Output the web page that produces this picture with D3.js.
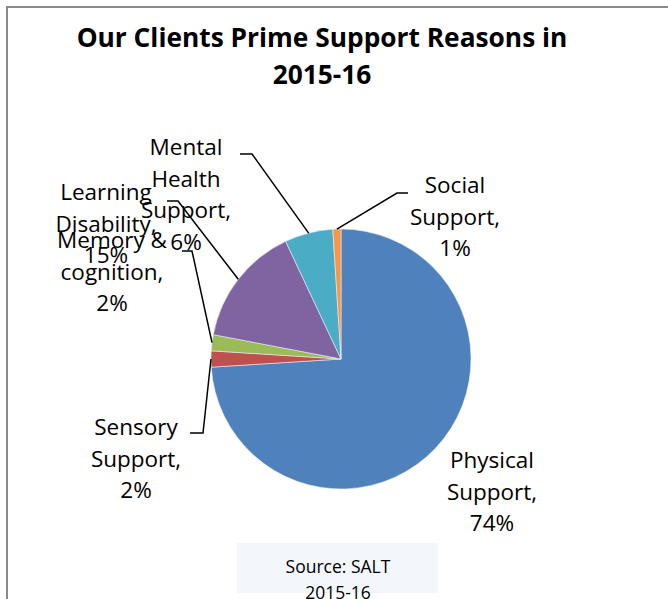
<!DOCTYPE html>
<html>
<head>
<meta charset="utf-8">
<script src="https://cdn.jsdelivr.net/npm/d3@7"></script>
<style>
  html, body { margin: 0; padding: 0; background: #fff; }
  svg { display: block; }
</style>
</head>
<body>
<svg id="chart" width="668" height="599"></svg>
<script>
// Support reasons, in clockwise order from 12 o'clock
const categories = ["Physical Support", "Sensory Support", "Memory & cognition", "Learning Disability", "Mental Health Support", "Social Support"];
const shares = [74, 2, 2, 15, 6, 1];
const colors = ["#4F81BD", "#C0504D", "#9BBB59", "#8064A2", "#4BACC6", "#F79646"];
// Wrapped label lines for each slice
const labelLines = [
  ["Physical", "Support,", "74%"],
  ["Sensory", "Support,", "2%"],
  ["Memory &", "cognition,", "2%"],
  ["Learning", "Disability,", "15%"],
  ["Mental", "Health", "Support,", "6%"],
  ["Social", "Support,", "1%"]
];
const titleLines = ["Our Clients Prime Support Reasons in", "2015-16"];
const sourceLines = ["Source: SALT", "2015-16"];

// Layout: label anchor (centre x, first baseline) and leader elbow/end points
const labelLayout = [
  { x: 492, y: 468, leader: null },
  { x: 136, y: 435, leader: [[203, 433], [190, 433]] },
  { x: 112, y: 248, leader: [[192, 251], [182, 251]] },
  { x: 106, y: 200, leader: [[178, 201], [167, 201]] },
  { x: 186, y: 155, leader: [[252, 154], [240, 154]] },
  { x: 455, y: 193, leader: [[397, 193], [408, 193]] }
];

const W = 668, H = 599;
const cx = 341, cy = 359, R = 130;
const font = "'Open Sans', 'Noto Sans', sans-serif";
const lineGap = 31.7;

const svg = d3.select("#chart");

// Chart area frame (top and left edges visible)
svg.append("line").attr("x1", 7).attr("y1", 7).attr("x2", W).attr("y2", 7)
  .attr("stroke", "#8a8a8a").attr("stroke-width", 2);
svg.append("line").attr("x1", 7).attr("y1", 6).attr("x2", 7).attr("y2", H)
  .attr("stroke", "#8a8a8a").attr("stroke-width", 2);

// Title
svg.append("text")
  .attr("text-anchor", "middle")
  .attr("font-family", font).attr("font-weight", "bold").attr("font-size", 26.3)
  .attr("fill", "#000")
  .selectAll("tspan").data(titleLines).join("tspan")
  .attr("x", 322).attr("y", (d, i) => 47 + i * 37).text(d => d);

const data = categories.map((c, i) => ({ name: c, value: shares[i], color: colors[i], lines: labelLines[i], layout: labelLayout[i] }));

const pie = d3.pie().sort(null).value(d => d.value).startAngle(0).endAngle(2 * Math.PI);
const arc = d3.arc().innerRadius(0).outerRadius(R);
const arcs = pie(data);

const g = svg.append("g").attr("transform", `translate(${cx},${cy})`);
g.selectAll("path.slice").data(arcs).join("path")
  .attr("class", "slice")
  .attr("d", arc)
  .attr("fill", d => d.data.color)
  .attr("stroke", "#e8eef6")
  .attr("stroke-width", 0.6);

// Leader lines from the slice's outer edge to the label
const edgePoint = d => {
  const a = (d.startAngle + d.endAngle) / 2;
  return [cx + R * Math.sin(a), cy - R * Math.cos(a)];
};
const line = d3.line();
svg.append("g").selectAll("path").data(arcs.filter(d => d.data.layout.leader)).join("path")
  .attr("d", d => line([edgePoint(d), ...d.data.layout.leader]))
  .attr("fill", "none").attr("stroke", "#000").attr("stroke-width", 1.5);

// Data labels
svg.append("g").selectAll("text").data(arcs).join("text")
  .attr("text-anchor", "middle")
  .attr("font-family", font).attr("font-size", 22.5).attr("fill", "#000")
  .each(function (d) {
    d3.select(this).selectAll("tspan").data(d.data.lines).join("tspan")
      .attr("x", d.data.layout.x)
      .attr("y", (t, i) => d.data.layout.y + i * lineGap)
      .text(t => t);
  });

// Source note box
svg.append("rect").attr("x", 237).attr("y", 543).attr("width", 201).attr("height", 50)
  .attr("fill", "#F3F6FB");
svg.append("text")
  .attr("text-anchor", "middle")
  .attr("font-family", font).attr("font-size", 17.5).attr("fill", "#000")
  .selectAll("tspan").data(sourceLines).join("tspan")
  .attr("x", 338).attr("y", (d, i) => 573 + i * 26).text(d => d);
</script>
</body>
</html>
